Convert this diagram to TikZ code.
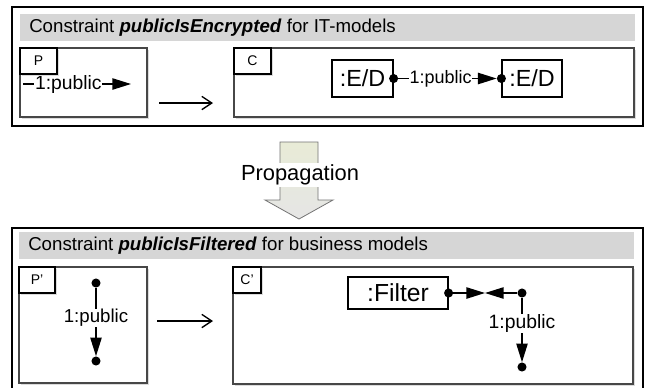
\documentclass[tikz,border=0pt]{standalone}
\usepackage{fontspec}
\setmainfont{Liberation Sans}
\usepackage{tikz}
\usetikzlibrary{arrows.meta}
\usetikzlibrary{shadows}
\tikzset{
  frame/.style={draw=black, line width=0.9pt},
  titlebar/.style={fill=black!16},
  titletext/.style={anchor=west, inner sep=0pt, font=\fontsize{14}{16}\selectfont},
  model/.style={draw=black!72, line width=1pt, fill=white,
                drop shadow={shadow xshift=1.8pt, shadow yshift=-1.8pt, fill=black!14, opacity=1}},
  tabbox/.style={draw=black, line width=0.8pt, fill=white,
                drop shadow={shadow xshift=1.5pt, shadow yshift=-1.5pt, fill=black!14, opacity=1}},
  tabtext/.style={inner sep=0pt, font=\fontsize{10.5}{12}\selectfont},
  comp/.style={draw=black, line width=0.9pt, fill=white, inner sep=0pt,
               minimum height=#1, font=\fontsize{17.5}{20}\selectfont},
  comp/.default=27.75pt,
  pdot/.style={circle, fill=black, inner sep=0pt, minimum size=6.8pt},
  conn/.style={line width=1.1pt, -{Triangle[length=14pt, width=8.5pt]}},
  lbl/.style={fill=white, inner sep=0.5pt, font=\fontsize{#1}{16}\selectfont},
  lbl/.default=14,
  mapsto/.style={line width=1pt, -{Straight Barb[length=7.5pt, width=10pt]}}}

\begin{document}
\begin{tikzpicture}[x=0.75pt, y=-0.75pt]
  \fill[white] (0,0) rectangle (646,387);
  \clip (0,0) rectangle (646,387);
  % constraint on IT-models
  \draw[frame] (12,7) rectangle (643,126);
  \fill[titlebar] (20,14) rectangle (635,41);
  \node[titletext] (titleA) at (29,27.5) {Constraint \textbf{\textit{publicIsEncrypted}} for IT-models};
  \draw[model] (20,48) rectangle (147,117);
  \draw[model] (234,48) rectangle (634,117);
  % pattern P: a single outgoing public link
  \coordinate (ps) at (23,84);
  \coordinate (pe) at (131,84);
  \draw[conn] (ps) -- node[lbl=14.5, pos=0.42] (lblP) {1:public} (pe);
  % consequence C: two encrypting components
  \node[comp, minimum width=45.75pt] (ed1) at (362.5,78.5) {:E/D};
  \node[comp, minimum width=45pt] (ed2) at (532,78.5) {:E/D};
  \node[pdot] (ed1p) at (ed1.east) {};
  \node[pdot] (ed2p) at (ed2.west) {};
  \draw[conn] (ed1p) -- node[lbl=13.5, pos=0.43] (lblC) {1:public} (ed2p);
  \draw[tabbox] (20,48) rectangle (57,74);
  \node[tabtext] (tabP) at (38.5,61) {P};
  \draw[tabbox] (234,48) rectangle (271,74);
  \node[tabtext] (tabC) at (252.5,61) {C};
  \coordinate (mA1) at (159,103);
  \coordinate (mA2) at (213,103);
  \draw[mapsto] (mA1) -- (mA2);
  % propagation block arrow
  \draw[draw=black!55, line width=0.6pt,
        top color={rgb,255:red,232;green,235;blue,214}, bottom color=black!10]
    (280,142) -- (318,142) -- (318,200) -- (333,200) -- (299,219) -- (265,200) -- (280,200) -- cycle;
  \node[fill=white, inner sep=1pt, font=\fontsize{16.4}{19}\selectfont] (prop) at (300,175) {Propagation};
  % constraint on business models
  \draw[frame] (12,228) rectangle (643,400);
  \fill[titlebar] (19,232) rectangle (634,259);
  \node[titletext] (titleB) at (28,245.5) {Constraint \textbf{\textit{publicIsFiltered}} for business models};
  \draw[model] (19,267) rectangle (147,383);
  \draw[model] (233,267) rectangle (633,384);
  % pattern P': a public link between two ports
  \node[pdot] (pa) at (96,283) {};
  \node[pdot] (pb) at (96,361) {};
  \draw[conn] (pa) -- node[lbl, pos=0.44] (lblPp) {1:public} (pb);
  % consequence C': a filter put in front
  \node[comp=24pt, minimum width=75pt, font=\fontsize{18.5}{21}\selectfont] (filter) at (398,293) {:Filter};
  \node[pdot] (fp) at (filter.east) {};
  \node[pdot] (jp) at (522,293) {};
  \node[pdot] (ep) at (522,367) {};
  \coordinate (meet) at (485,293);
  \draw[conn] (fp) -- (meet);
  \draw[conn] (jp) -- (meet);
  \draw[conn] (jp) -- node[lbl=14.5, pos=0.4] (lblCp) {1:public} (ep);
  \draw[tabbox] (19,267) rectangle (55,293);
  \node[tabtext] (tabPp) at (37,280) {P'};
  \draw[tabbox] (233,267) rectangle (261,293);
  \node[tabtext] (tabCp) at (247,280) {C'};
  \coordinate (mB1) at (157,321);
  \coordinate (mB2) at (213,321);
  \draw[mapsto] (mB1) -- (mB2);
\end{tikzpicture}
\end{document}
